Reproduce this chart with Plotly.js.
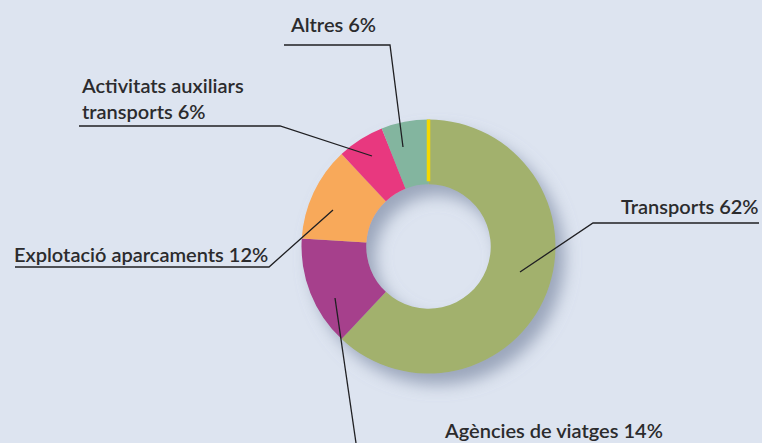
<!DOCTYPE html>
<html><head><meta charset="utf-8">
<script src="https://cdn.plot.ly/plotly-3.0.1.min.js"></script>
<style>html,body{margin:0;padding:0;background:#dde4f0;}</style>
</head><body>
<div id="chart" style="width:762px;height:443px;"></div>
<script>
const categories = ["Transports", "Agències de viatges", "Explotació aparcaments", "Activitats auxiliars transports", "Altres"];
const values = [62, 14, 12, 6, 6];
const labelTexts = ["Transports 62%", "Agències de viatges 14%", "Explotació aparcaments 12%", "Activitats auxiliars<br>transports 6%", "Altres 6%"];
const colors = ["#a2b16d", "#a63f8c", "#f8a95a", "#e8397f", "#83b59f"];

const W = 762, H = 443;
const cx = 428.5, cy = 246.5, R = 127;
const px = x => x / W, py = y => 1 - y / H;

const layoutInfo = [
  {tx: 619, ty: 206, line: [[759, 223], [593, 223], [520, 272]]},
  {tx: 442, ty: 430, line: [[335, 298], [356, 443]]},
  {tx: 12, ty: 254, line: [[15, 267], [269, 267], [333, 210]]},
  {tx: 79, ty: 98, line: [[79, 126], [280, 126], [372, 156]]},
  {tx: 288, ty: 24, line: [[284, 45], [390, 45], [403, 147]]}
];

const font = {family: "Lato, 'Open Sans', sans-serif", size: 20, color: "#2b2b2d", weight: 600};

const annotations = labelTexts.map((t, i) => ({
  text: t, xref: "paper", yref: "paper",
  x: px(layoutInfo[i].tx), y: py(layoutInfo[i].ty),
  xanchor: "left", yanchor: "middle", align: "left",
  showarrow: false, font: font
}));

const shapes = [];
layoutInfo.forEach(li => {
  const pts = li.line;
  let path = "M" + pts.map(p => px(p[0]) + "," + py(p[1])).join(" L");
  shapes.push({type: "path", xref: "paper", yref: "paper", path: path,
    line: {color: "#1f1f22", width: 1.3}, layer: "above"});
});
shapes.push({type: "line", xref: "paper", yref: "paper",
  x0: px(cx), x1: px(cx), y0: py(cy - R), y1: py(cy - R * 0.49 - 3),
  line: {color: "#f4d800", width: 3.5}, layer: "above"});

const trace = {
  type: "pie", labels: categories, values: values, sort: false,
  direction: "clockwise", rotation: 0, hole: 0.49,
  marker: {colors: colors, line: {width: 0}},
  textinfo: "none", hoverinfo: "none", showlegend: false,
  domain: {x: [px(cx - R), px(cx + R)], y: [py(cy + R), py(cy - R)]}
};

function addShadow() {
  const NS = "http://www.w3.org/2000/svg";
  const svg = document.querySelector("#chart svg.main-svg");
  if (!svg) return;
  if (!document.getElementById("donutShadow")) {
    const defs = document.createElementNS(NS, "defs");
    svg.insertBefore(defs, svg.firstChild);
    const f = document.createElementNS(NS, "filter");
    f.setAttribute("id", "donutShadow");
    f.setAttribute("filterUnits", "userSpaceOnUse");
    f.setAttribute("x", "0"); f.setAttribute("y", "0");
    f.setAttribute("width", String(W)); f.setAttribute("height", String(H));
    const mk = (tag, attrs) => { const e = document.createElementNS(NS, tag); for (const k in attrs) e.setAttribute(k, attrs[k]); f.appendChild(e); return e; };
    mk("feGaussianBlur", {"in": "SourceAlpha", stdDeviation: "8", result: "b"});
    mk("feOffset", {"in": "b", dx: "9", dy: "11", result: "ob"});
    mk("feFlood", {"flood-color": "#8a96ae", "flood-opacity": "0.8", result: "fl"});
    mk("feComposite", {"in": "fl", in2: "ob", operator: "in", result: "sh"});
    const m = mk("feMerge", {});
    const n1 = document.createElementNS(NS, "feMergeNode"); n1.setAttribute("in", "sh"); m.appendChild(n1);
    const n2 = document.createElementNS(NS, "feMergeNode"); n2.setAttribute("in", "SourceGraphic"); m.appendChild(n2);
    defs.appendChild(f);
  }
  document.querySelectorAll("#chart .pielayer").forEach(g => g.setAttribute("filter", "url(#donutShadow)"));
}

Plotly.newPlot("chart", [trace], {
  width: W, height: H, margin: {l: 0, r: 0, t: 0, b: 0},
  paper_bgcolor: "#dde4f0", plot_bgcolor: "#dde4f0",
  annotations: annotations, shapes: shapes, showlegend: false
}, {displayModeBar: false, staticPlot: true});
addShadow();
</script>
</body></html>
